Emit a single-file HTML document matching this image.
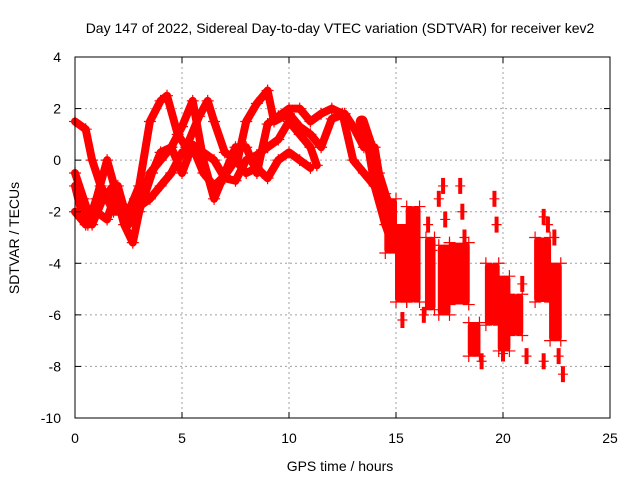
<!DOCTYPE html>
<html><head><meta charset="utf-8"><style>
body{margin:0;background:#fff}
svg{display:block;font-family:"Liberation Sans",sans-serif}
</style></head><body>
<svg id="chart" width="640" height="480">
<text x="340" y="33" text-anchor="middle" font-size="14">Day 147 of 2022, Sidereal Day-to-day VTEC variation (SDTVAR) for receiver kev2</text>
<text x="340" y="471" text-anchor="middle" font-size="14">GPS time / hours</text>
<text transform="translate(19,238) rotate(-90)" text-anchor="middle" font-size="14">SDTVAR / TECUs</text>
<g id="grid"></g><g id="marks"></g><g id="axes"></g>
</svg>
<script>
const xTicks=[0,5,10,15,20,25];
const yTicks=[4,2,0,-2,-4,-6,-8,-10];
const track1=[[0,1.5],[0.5,1.2],[0.8,0],[1.2,-1],[1.8,-2],[2.5,-2],[3,-1],[3.5,1.5],[4,2.3],[4.3,2.5],[4.8,1],[5.2,0.5],[5.8,1.7],[6.2,2.3],[6.5,1.5],[7,0.3],[7.6,0],[8,1.5],[8.5,2.2],[9,2.7],[9.3,1.5],[10,1.8],[10.5,1.3],[11,1.0],[11.5,0.5],[12,1.6],[12.6,1.8],[13,1.3],[13.5,0.5],[14,0.5],[14.2,-0.5],[14.5,-1.3],[14.8,-2]];
const track2=[[0,-0.5],[0.4,-1.5],[0.8,-2.5],[1.3,-1.5],[1.8,-1],[2.3,-2.5],[2.7,-3.2],[3,-2],[3.5,-0.5],[4,0],[4.5,0.5],[5,1.3],[5.5,2.3],[6,0],[6.5,-1.5],[7,-0.5],[7.5,0.5],[8,0.5],[8.5,-0.5],[9,1.4],[9.5,1.7],[10,2],[10.5,2],[11,1.5],[11.5,1.8],[12,2],[12.5,1.8],[13,0],[13.5,-0.5],[14,-1],[14.5,-2.5],[14.8,-3.2]];
const track3=[[0,-1],[0.3,-2],[0.6,-2.5],[1,-1.5],[1.5,0],[2,-1.5],[2.5,-2],[2.8,-1.5],[3.2,-1.5],[3.6,-0.5],[4,0.3],[4.5,0.5],[5,-0.5],[5.5,0.6],[6,0.3],[6.5,0],[7,-0.7],[7.5,-0.8],[8,0],[8.5,0.2],[9,0.5],[9.5,0.8],[10,1.5],[10.5,1.0],[11,0.5],[11.3,-0.2]];
const track4=[[0,-2],[0.5,-2.5],[1,-2],[1.5,-2.3],[2,-1],[2.5,-2.5],[3,-1.8],[3.5,-1.5],[4,-1],[4.5,-0.5],[5,0.3],[5.5,0.5],[6,-0.5],[6.5,-1.0],[7,-0.6],[7.5,0],[8,-0.5],[8.5,-0.3],[9,-0.7],[9.5,0],[10,0.3],[10.5,0],[11,-0.3]];
const track5=[[13.4,1.5],[13.8,0.5],[14.1,-1],[14.4,-1.8],[14.8,-2.6],[15,-3.2]];
const clusterStart=[14.5,15.0,15.5,16.4,17.0,17.5,18.4,19.2,19.8,20.3,21.5,22.2];
const clusterEnd  =[15.0,15.5,16.1,16.8,17.5,18.4,18.9,19.8,20.3,20.9,22.2,22.7];
const clusterTop  =[-1.5,-2.5,-1.8,-3.0,-3.3,-3.2,-6.3,-4.0,-4.5,-5.2,-3.0,-4.0];
const clusterBot  =[-3.6,-5.5,-5.5,-5.8,-6.0,-5.6,-7.6,-6.4,-7.4,-6.8,-5.5,-7.0];
const spikes=[[17.2,-1],[17.3,-2.3],[18,-1],[18.1,-2.0],[18.2,-3.0],[16.5,-2.5],[16.7,-3.5],[19.6,-1.5],[19.7,-2.5],[21.7,-4.8],[21.9,-7.8],[21.9,-2.2],[22.1,-2.5],[22.4,-3],[22.8,-8.3],[20.9,-4.8],[21.1,-7.6],[15.3,-6.2],[16.3,-6.0],[17.0,-1.5],[19.0,-7.8],[20.0,-7.5],[22.6,-7.6]];
const tracks=[track1,track2,track3,track4,track5];
const X0=75,X1=610,Y0=418,Y1=57;
const xs=t=>X0+(t-0)/(25-0)*(X1-X0);
const ys=v=>Y0-(v+10)/14*(Y0-Y1);
const NS="http://www.w3.org/2000/svg";
const g=document.getElementById('grid'),m=document.getElementById('marks'),a=document.getElementById('axes');
function mk(tag,attrs,parent){const e=document.createElementNS(NS,tag);for(const k in attrs)e.setAttribute(k,attrs[k]);parent.appendChild(e);return e;}
xTicks.forEach(t=>{const x=xs(t);
 if(t>0&&t<25){const l=mk('line',{x1:x,x2:x,y1:Y1,y2:Y0,stroke:'#a0a0a0','stroke-dasharray':'2,3'},g);}
 mk('line',{x1:x,x2:x,y1:Y0,y2:Y0-6,stroke:'#000'},a);mk('line',{x1:x,x2:x,y1:Y1,y2:Y1+6,stroke:'#000'},a);
 const tx=mk('text',{x:x,y:443,'text-anchor':'middle','font-size':14},a);tx.textContent=t;
 });
yTicks.forEach(v=>{const y=ys(v);
 if(v>-10&&v<4){const l=mk('line',{x1:X0,x2:X1,y1:y,y2:y,stroke:'#a0a0a0','stroke-dasharray':'2,3'},g);}
 mk('line',{x1:X0,x2:X0+6,y1:y,y2:y,stroke:'#000'},a);mk('line',{x1:X1,x2:X1-6,y1:y,y2:y,stroke:'#000'},a);
 const tx=mk('text',{x:61,y:y+5,'text-anchor':'end','font-size':14},a);tx.textContent=v;
 });
const box=mk('rect',{x:X0,y:Y1,width:X1-X0,height:Y0-Y1,fill:'none',stroke:'#000'},a);

function plus(x,y,s){const p=mk('path',{d:`M${x-s},${y}H${x+s}M${x},${y-s}V${y+s}`,stroke:'#f00','stroke-width':1.2},m);
 }
tracks.forEach((tr,i)=>{
 const pl=mk('polyline',{points:tr.map(p=>xs(p[0])+','+ys(p[1])).join(' '),fill:'none',stroke:'#f00','stroke-width':i==4?12:8,'stroke-linejoin':'round','stroke-linecap':'round'},m);
 
 tr.forEach(p=>plus(xs(p[0]),ys(p[1]),6));
});
clusterStart.forEach((s,i)=>{
 const x=xs(s),w=xs(clusterEnd[i])-x,yt=ys(clusterTop[i]),yb=ys(clusterBot[i]);
 const r=mk('rect',{x:x-1,y:yt,width:w+2,height:yb-yt,fill:'#f00',rx:3},m);
 
 plus(x,yt,6);plus(x+w,yb,6);plus(x,yb,6);plus(x+w,yt,6);
});
spikes.forEach(p=>{const pl=mk('line',{x1:xs(p[0]),x2:xs(p[0]),y1:ys(p[1])-8,y2:ys(p[1])+8,stroke:'#f00','stroke-width':4},m);
 plus(xs(p[0]),ys(p[1]),5);});
</script>
</body></html>
